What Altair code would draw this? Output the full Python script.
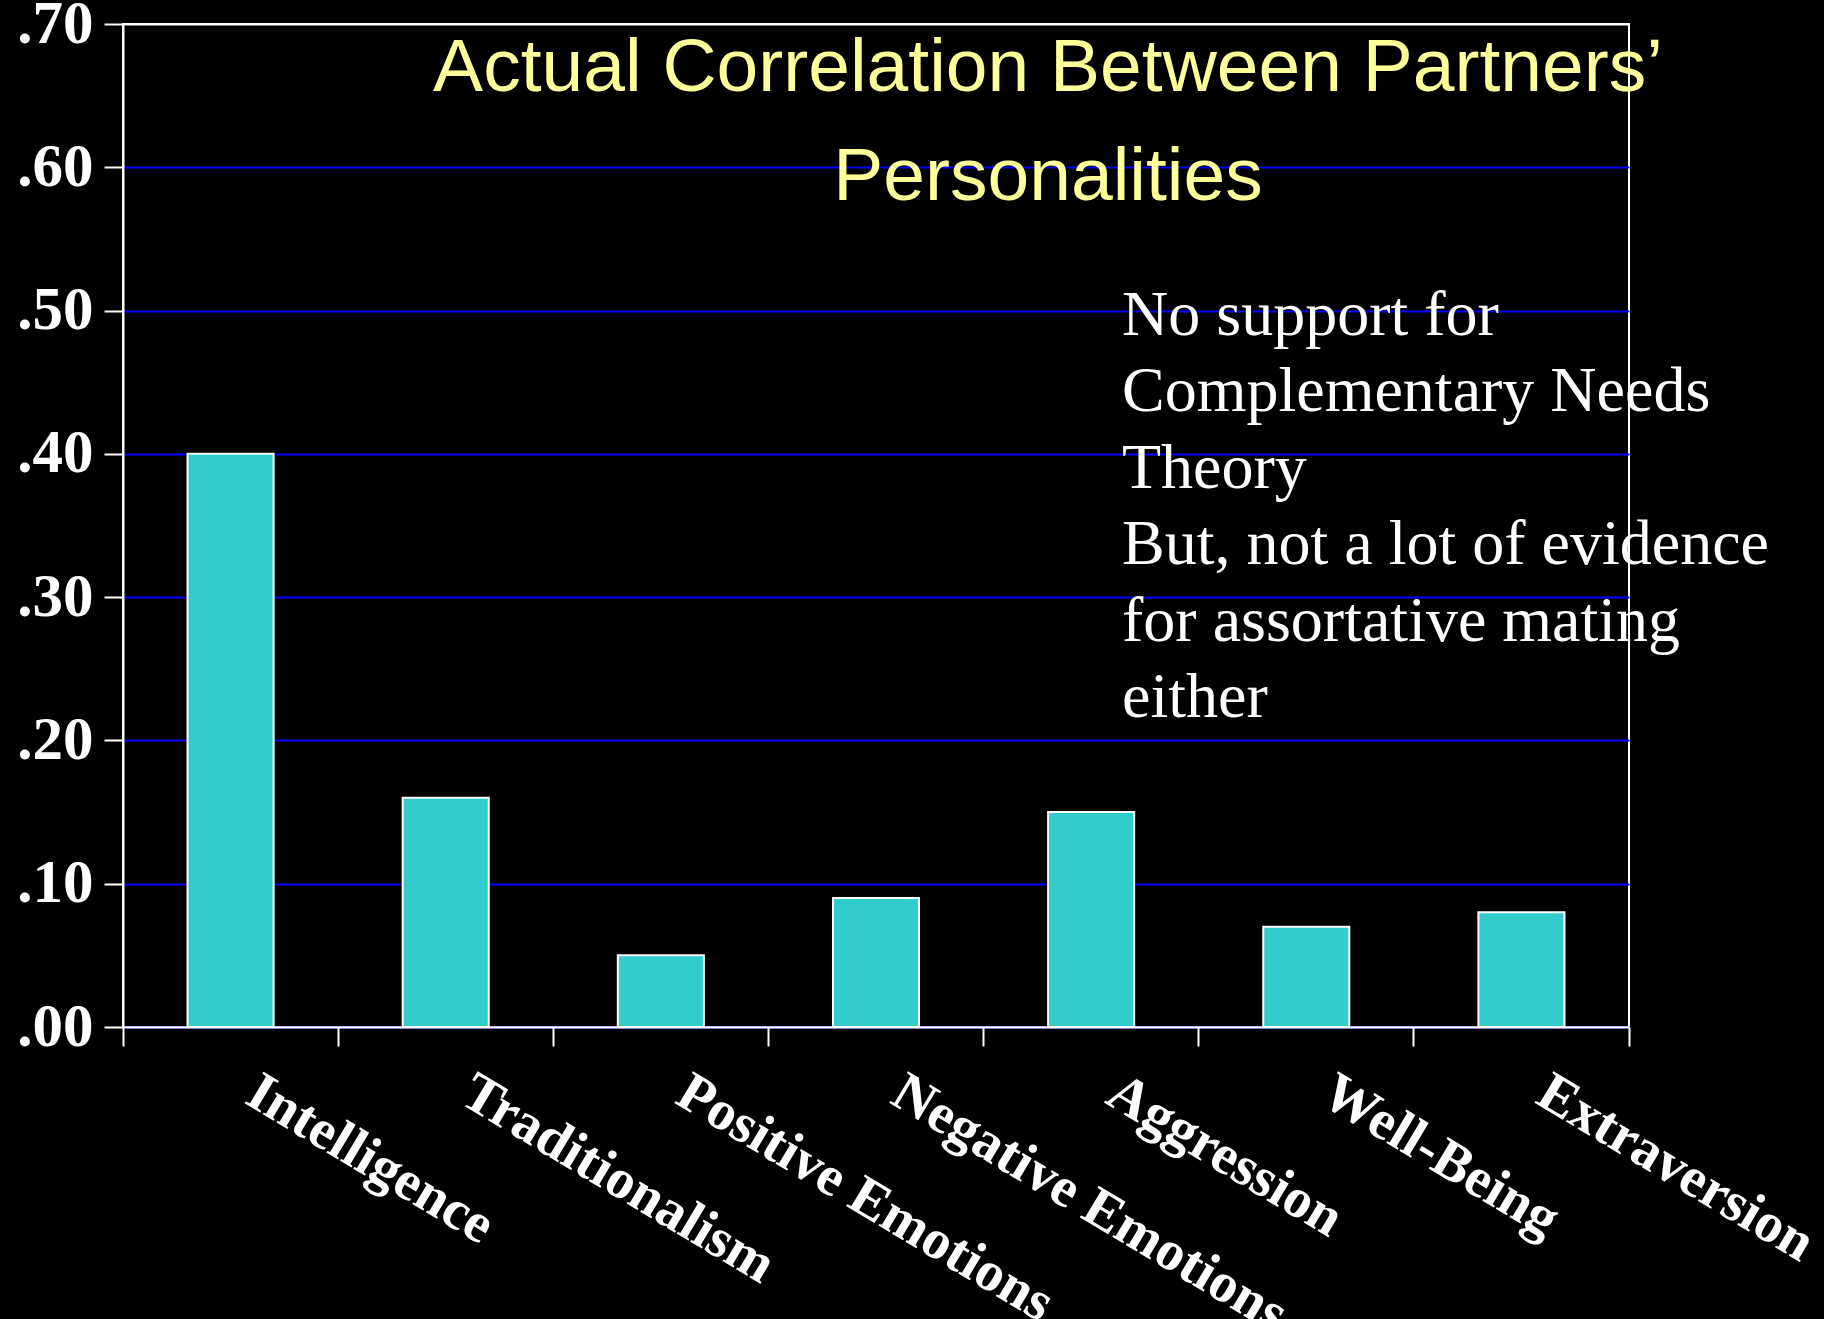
import altair as alt
import pandas as pd

# ---- data ----
categories = ["Intelligence", "Traditionalism", "Positive Emotions",
              "Negative Emotions", "Aggression", "Well-Being", "Extraversion"]
values = [0.40, 0.16, 0.05, 0.09, 0.15, 0.07, 0.08]
y_ticks = [0.0, 0.1, 0.2, 0.3, 0.4, 0.5, 0.6, 0.7]
title_lines = ["Actual Correlation Between Partners\u2019", "Personalities"]
note_lines = ["No support for", "Complementary Needs", "Theory",
              "But, not a lot of evidence", "for assortative mating", "either"]

df = pd.DataFrame({"trait": categories, "r": values})

W, H = 1506, 1003
PAD = {"left": 123, "top": 24, "right": 1824 - 123 - W, "bottom": 1319 - 24 - H}

bars = alt.Chart(df).mark_bar(
    color="#33CCCC", stroke="white", strokeWidth=2,
    width=alt.RelativeBandSize(0.4),
).encode(
    x=alt.X(
        "trait:N", sort=categories, title=None,
        scale=alt.Scale(paddingInner=0, paddingOuter=0),
        axis=alt.Axis(
            bandPosition=1, tickExtra=True, grid=False,
            labelOffset=35, labelAngle=31, labelAlign="left", labelBaseline="top",
            labelFont="Liberation Serif", labelFontWeight="bold", labelFontSize=56,
            labelColor="white", labelPadding=18, labelLimit=0, labelOverlap=False,
            tickSize=19, tickColor="white", tickWidth=2,
            domainColor="white", domainWidth=2,
        ),
    ),
    y=alt.Y(
        "r:Q", title=None,
        scale=alt.Scale(domain=[0, 0.7], nice=False, zero=True),
        axis=alt.Axis(
            values=y_ticks,
            labelExpr="substring(format(datum.value, '.2f'), 1)",
            labelFont="Liberation Serif", labelFontWeight="bold", labelFontSize=61,
            labelColor="white", labelPadding=11,
            tickSize=19, tickColor="white", tickWidth=2,
            domainColor="white", domainWidth=2,
            grid=True, gridWidth=2,
            gridColor={"condition": {"test": "datum.value > 0.65", "value": "white"},
                       "value": "#0000FF"},
        ),
    ),
)

one = pd.DataFrame({"k": [0]})

title_text = alt.Chart(one).mark_text(
    text=title_lines, font="Liberation Sans", fontSize=75, color="#FFFF99",
    align="center", baseline="alphabetic", lineHeight=109,
).encode(x=alt.value(925), y=alt.value(67))

note_text = alt.Chart(one).mark_text(
    text=note_lines, font="Liberation Serif", fontSize=64, color="white",
    align="left", baseline="alphabetic", lineHeight=76.4,
).encode(x=alt.value(999), y=alt.value(311))

chart = alt.layer(bars, title_text, note_text).properties(
    width=W, height=H, padding=PAD,
    autosize=alt.AutoSizeParams(type="none"),
).configure(background="black").configure_view(stroke="white", strokeWidth=2)

chart.save("out.html", embed_options={"renderer": "svg", "actions": False})
